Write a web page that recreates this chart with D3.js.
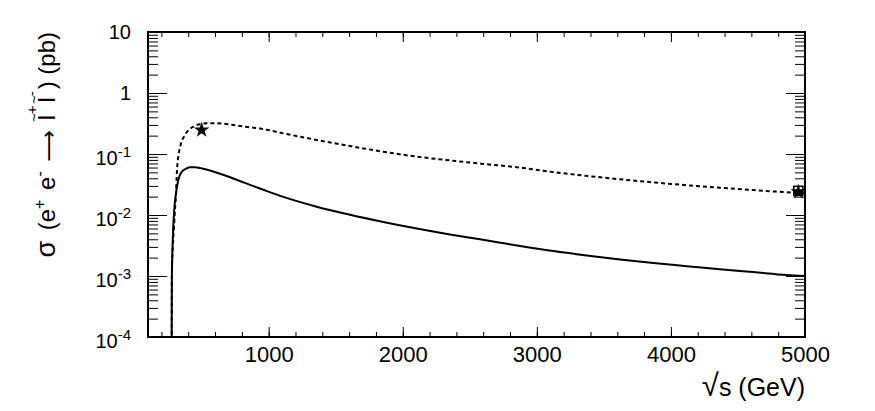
<!DOCTYPE html>
<html>
<head>
<meta charset="utf-8">
<script src="https://cdn.jsdelivr.net/npm/d3@7"></script>
<style>
  body { margin: 0; background: #ffffff; }
  text { font-family: "Liberation Sans", Arial, Helvetica, sans-serif; fill: #000; }
</style>
</head>
<body>
<div id="chart"></div>
<script>
// data: sqrt(s) in GeV, cross section in pb
var solidE = [276, 277, 278, 284, 294, 309, 326, 351, 389, 413, 450, 488, 562, 687, 809, 861, 935,
              1109, 1358, 1607, 1855, 2104, 2352, 2576, 2874, 3123, 3371, 3620, 3869, 4118, 4366, 4615, 4864, 5000];
var solidSigma = [0.00001, 0.0002, 0.00097, 0.0035, 0.0108, 0.023, 0.0375, 0.051, 0.058, 0.0606, 0.0608, 0.059,
                  0.0537, 0.0436, 0.0345, 0.0312, 0.0272, 0.0198, 0.0137, 0.0101, 0.0077, 0.0060, 0.0048,
                  0.0040, 0.0031, 0.00256, 0.00217, 0.00187, 0.00163, 0.00145, 0.00129, 0.00116, 0.00104, 0.00100];

var dottedE = [276, 278, 284, 294, 301, 309, 314, 318, 326, 343, 376, 438, 538, 612, 736, 861, 935,
               1109, 1358, 1607, 1855, 2104, 2352, 2601, 2874, 3123, 3371, 3620, 3869, 4118, 4366, 4615, 4864, 5000];
var dottedSigma = [0.00001, 0.0011, 0.00267, 0.00643, 0.0121, 0.0227, 0.0425, 0.062, 0.0903, 0.1406, 0.205,
                   0.281, 0.319, 0.319, 0.299, 0.274, 0.262, 0.218, 0.170, 0.135, 0.109, 0.0905, 0.0785,
                   0.0688, 0.0600, 0.0505, 0.0438, 0.0385, 0.0342, 0.0308, 0.0280, 0.0256, 0.0236, 0.0227];

// star markers
var starE = [500, 4950];
var starSigma = [0.247, 0.024];

// tick values
var xMajor = [1000, 2000, 3000, 4000, 5000];
var xMinor = d3.range(200, 5001, 200);
var yExp = [-4, -3, -2, -1, 0, 1];

var width = 875, height = 411;
var pLeft = 148, pRight = 805, pTop = 32, pBottom = 337;

var svg = d3.select("#chart").append("svg")
    .attr("width", width)
    .attr("height", height);

svg.append("rect")
    .attr("width", width)
    .attr("height", height)
    .style("fill", "#ffffff");

var x = d3.scaleLinear().domain([100, 5000]).range([pLeft, pRight]);
var y = d3.scaleLog().domain([1e-4, 10]).range([pBottom, pTop]);

var yMajor = yExp.map(function(e) { return Math.pow(10, e); });
var yMinor = [];
yExp.slice(0, -1).forEach(function(e) {
    for (var k = 2; k <= 9; k++) yMinor.push(k * Math.pow(10, e));
});

function cleanAxis(g) {
    g.select(".domain").remove();
    g.selectAll("line").style("stroke", "#000").style("stroke-width", 1);
}

// x ticks, bottom and top (pointing inwards)
svg.append("g").attr("transform", "translate(0," + pBottom + ")")
    .call(d3.axisBottom(x).tickValues(xMinor).tickSize(-5).tickFormat(""))
    .call(cleanAxis);
svg.append("g").attr("transform", "translate(0," + pBottom + ")")
    .call(d3.axisBottom(x).tickValues(xMajor).tickSize(-10).tickPadding(10).tickFormat(d3.format("d")))
    .call(cleanAxis)
    .call(function(g) {
        g.selectAll("text")
            .attr("y", 25)
            .attr("dy", 0)
            .style("font-size", "22px")
            .style("font-family", "'Liberation Sans', Arial, sans-serif");
    });
svg.append("g").attr("transform", "translate(0," + pTop + ")")
    .call(d3.axisTop(x).tickValues(xMinor).tickSize(-5).tickFormat(""))
    .call(cleanAxis);
svg.append("g").attr("transform", "translate(0," + pTop + ")")
    .call(d3.axisTop(x).tickValues(xMajor).tickSize(-10).tickFormat(""))
    .call(cleanAxis);

// y ticks, left and right
svg.append("g").attr("transform", "translate(" + pLeft + ",0)")
    .call(d3.axisLeft(y).tickValues(yMinor).tickSize(-10).tickFormat(""))
    .call(cleanAxis);
svg.append("g").attr("transform", "translate(" + pLeft + ",0)")
    .call(d3.axisLeft(y).tickValues(yMajor).tickSize(-19).tickFormat(""))
    .call(cleanAxis);
svg.append("g").attr("transform", "translate(" + pRight + ",0)")
    .call(d3.axisRight(y).tickValues(yMinor).tickSize(-10).tickFormat(""))
    .call(cleanAxis);
svg.append("g").attr("transform", "translate(" + pRight + ",0)")
    .call(d3.axisRight(y).tickValues(yMajor).tickSize(-19).tickFormat(""))
    .call(cleanAxis);

// y tick labels with superscript exponents
var ylab = svg.append("g").selectAll("text")
    .data(yExp)
    .enter()
    .append("text")
    .attr("x", 131)
    .attr("text-anchor", "end")
    .style("font-size", "20px");
ylab.each(function(e) {
    var t = d3.select(this);
    if (e === 1) {
        t.attr("y", y(10) + 7).text("10");
    } else if (e === 0) {
        t.attr("y", y(1) + 7).text("1");
    } else {
        t.attr("y", y(Math.pow(10, e)) + 11);
        t.append("tspan").text("10");
        t.append("tspan").attr("dy", -8).style("font-size", "15px").text(String(e));
    }
});

// frame
svg.append("rect")
    .attr("x", pLeft)
    .attr("y", pTop)
    .attr("width", pRight - pLeft)
    .attr("height", pBottom - pTop)
    .style("fill", "none")
    .style("stroke", "#000")
    .style("stroke-width", 2);

// curves
svg.append("clipPath").attr("id", "plotclip")
    .append("rect")
    .attr("x", pLeft).attr("y", pTop)
    .attr("width", pRight - pLeft).attr("height", pBottom - pTop);

var line = d3.line()
    .x(function(d) { return x(d[0]); })
    .y(function(d) { return y(d[1]); })
    .curve(d3.curveMonotoneX);

svg.append("path")
    .datum(d3.zip(solidE, solidSigma))
    .attr("d", line)
    .attr("clip-path", "url(#plotclip)")
    .style("fill", "none")
    .style("stroke", "#000")
    .style("stroke-width", 2);

svg.append("path")
    .datum(d3.zip(dottedE, dottedSigma))
    .attr("d", line)
    .attr("clip-path", "url(#plotclip)")
    .style("fill", "none")
    .style("stroke", "#000")
    .style("stroke-width", 2)
    .style("stroke-dasharray", "4,3");

// star markers
var star = d3.symbol().type(d3.symbolStar).size(75);
svg.append("g").selectAll("path")
    .data(d3.zip(starE, starSigma))
    .enter()
    .append("path")
    .attr("d", star)
    .attr("transform", function(d) { return "translate(" + x(d[0]) + "," + y(d[1]) + ")"; })
    .style("fill", "#000");
// open square around the last point
svg.append("rect")
    .attr("x", x(starE[1]) - 4.5)
    .attr("y", y(starSigma[1]) - 5.5)
    .attr("width", 9)
    .attr("height", 9)
    .style("fill", "none")
    .style("stroke", "#000")
    .style("stroke-width", 1.5);

// axis titles
var xtitle = svg.append("text")
    .attr("x", pRight)
    .attr("y", 396)
    .attr("text-anchor", "end")
    .style("font-size", "25px");
xtitle.append("tspan").style("font-size", "31px").text("\u221A");
xtitle.append("tspan").text("s (GeV)");

var ytitle = svg.append("text")
    .attr("transform", "translate(55," + pTop + ") rotate(-90)")
    .attr("text-anchor", "end")
    .style("font-size", "24px");
ytitle.append("tspan").style("font-size", "27px").text("\u03C3");
ytitle.append("tspan").attr("dx", 4).text(" (e");
ytitle.append("tspan").attr("dy", -10).style("font-size", "16px").text("+");
ytitle.append("tspan").attr("dy", 10).attr("dx", 3).text(" e");
ytitle.append("tspan").attr("dy", -10).style("font-size", "16px").text("-");
ytitle.append("tspan").attr("dy", 10).attr("dx", 3).text(" ");
ytitle.append("tspan").attr("dy", 1).style("font-family", "'DejaVu Sans'").style("font-size", "22px").text("\u27F6");
ytitle.append("tspan").attr("dy", -1).attr("dx", 3).text(" l");
// tilde over l, then superscript sign
ytitle.append("tspan").attr("dx", -7).attr("dy", -16).style("font-size", "15px").text("~");
ytitle.append("tspan").attr("dx", -1).attr("dy", -2).style("font-size", "15px").text("+");
ytitle.append("tspan").attr("dx", 3).attr("dy", 18).text("l");
ytitle.append("tspan").attr("dx", -7).attr("dy", -16).style("font-size", "15px").text("~");
ytitle.append("tspan").attr("dx", -1).attr("dy", -2).style("font-size", "15px").text("-");
ytitle.append("tspan").attr("dx", 2).attr("dy", 18).text(") (pb)");
</script>
</body>
</html>
